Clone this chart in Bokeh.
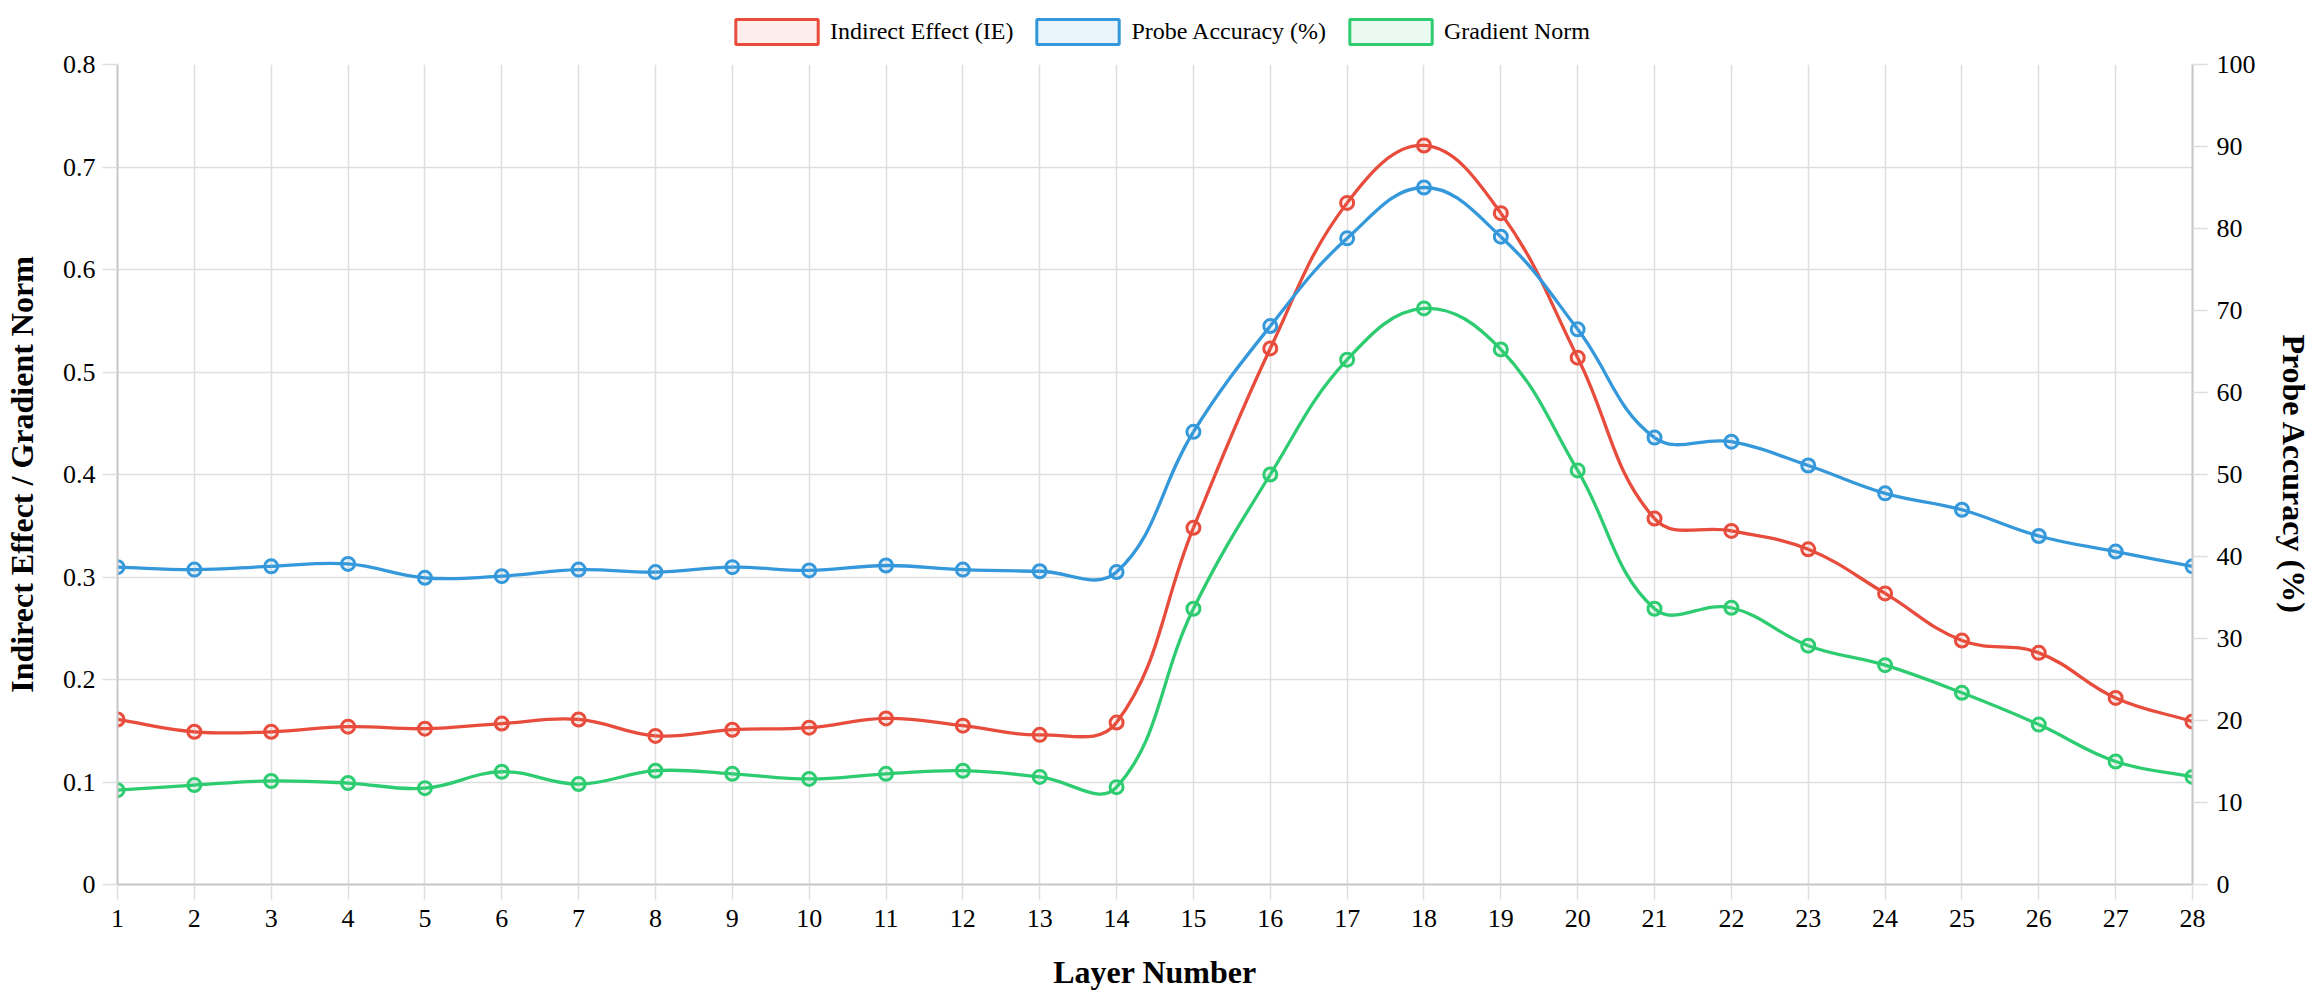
import numpy as np
from bokeh.plotting import figure
from bokeh.layouts import column
from bokeh.models import (Range1d, LinearAxis, Legend, LegendItem, FixedTicker,
                          ColumnDataSource)
from bokeh.embed import file_html
from bokeh.resources import INLINE

# ---------------- data ----------------
layers = list(range(1, 29))
indirect_effect = [0.161, 0.149, 0.149, 0.154, 0.152, 0.157, 0.161, 0.145, 0.151, 0.153,
                   0.162, 0.155, 0.146, 0.158, 0.348, 0.523, 0.665, 0.721, 0.655, 0.514,
                   0.357, 0.345, 0.327, 0.284, 0.238, 0.226, 0.182, 0.159]
probe_accuracy = [38.7, 38.4, 38.8, 39.1, 37.4, 37.6, 38.4, 38.1, 38.7, 38.3,
                  38.9, 38.4, 38.2, 38.1, 55.2, 68.1, 78.8, 85.0, 79.0, 67.7,
                  54.5, 54.0, 51.1, 47.7, 45.7, 42.5, 40.6, 38.8]
gradient_norm = [0.092, 0.097, 0.101, 0.099, 0.094, 0.110, 0.098, 0.111, 0.108, 0.103,
                 0.108, 0.111, 0.105, 0.095, 0.269, 0.400, 0.512, 0.562, 0.522, 0.404,
                 0.269, 0.270, 0.233, 0.214, 0.187, 0.156, 0.120, 0.105]
left_ticks = [0, 0.1, 0.2, 0.3, 0.4, 0.5, 0.6, 0.7, 0.8]
right_ticks = [0, 10, 20, 30, 40, 50, 60, 70, 80, 90, 100]
series_names = ["Indirect Effect (IE)", "Probe Accuracy (%)", "Gradient Norm"]

RED, BLUE, GREEN = "#e74c3c", "#3498db", "#2ecc71"
FONT = "Liberation Serif"

# ---------------- layout ----------------
W = 2316
LEG_H = 48
H = 1000 - LEG_H
ML, MR, MT, MB = 117, 124, 16, 116
FRAME_W = W - ML - MR
FRAME_H = H - MT - MB

p = figure(width=W, height=H, x_range=Range1d(1, 28), y_range=Range1d(0, 0.8),
           output_backend="svg", toolbar_location=None,
           min_border_left=ML, min_border_right=MR, min_border_top=MT, min_border_bottom=MB)
p.extra_y_ranges = {"acc": Range1d(0, 100)}
p.outline_line_color = None
p.background_fill_color = "white"
p.border_fill_color = "white"

GRID = "#dedede"
AXIS = "#c6c6c6"

p.xgrid.ticker = FixedTicker(ticks=layers)
p.ygrid.ticker = FixedTicker(ticks=left_ticks)
for g in (p.xgrid, p.ygrid):
    g.grid_line_color = GRID
    g.grid_line_width = 1.5

xa = p.xaxis[0]
xa.ticker = FixedTicker(ticks=layers)
xa.axis_label = "Layer Number"
ya = p.yaxis[0]
ya.ticker = FixedTicker(ticks=left_ticks)
ya.major_label_overrides = {0: "0"}
ya.axis_label = "Indirect Effect / Gradient Norm"
ra = LinearAxis(y_range_name="acc", ticker=FixedTicker(ticks=right_ticks),
                axis_label="Probe Accuracy (%)")
p.add_layout(ra, "right")

for ax in (xa, ya, ra):
    ax.axis_line_color = AXIS
    ax.axis_line_width = 2
    ax.major_tick_line_color = GRID
    ax.major_tick_line_width = 1.5
    ax.major_tick_in = 0
    ax.major_tick_out = 15
    ax.minor_tick_line_color = None
    ax.major_label_text_font = FONT
    ax.major_label_text_font_size = "26px"
    ax.major_label_text_color = "#000000"
    ax.axis_label_text_font = FONT
    ax.axis_label_text_font_style = "bold"
    ax.axis_label_text_color = "#000000"
    ax.axis_label_text_font_size = "32px"

xa.major_label_standoff = 10
xa.axis_label_standoff = 24
ya.major_label_standoff = 7
ya.axis_label_standoff = 20
ra.major_label_standoff = 9
ra.axis_label_standoff = 17

# ---------------- smooth curves (Chart.js style spline, tension 0.4) ----------------
SX = FRAME_W / (28 - 1)


def spline_segments(xs, ys, sy, t=0.4):
    px = np.asarray(xs, float) * SX
    py = np.asarray(ys, float) * sy
    n = len(px)
    prev_cp, next_cp = [], []
    for i in range(n):
        cx, cy = px[i], py[i]
        ax_, ay_ = (px[i - 1], py[i - 1]) if i > 0 else (cx, cy)
        bx_, by_ = (px[i + 1], py[i + 1]) if i < n - 1 else (cx, cy)
        d01 = np.hypot(cx - ax_, cy - ay_)
        d12 = np.hypot(bx_ - cx, by_ - cy)
        tot = d01 + d12
        s01 = d01 / tot if tot else 0.0
        s12 = d12 / tot if tot else 0.0
        fa, fb = t * s01, t * s12
        prev_cp.append((cx - fa * (bx_ - ax_), cy - fa * (by_ - ay_)))
        next_cp.append((cx + fb * (bx_ - ax_), cy + fb * (by_ - ay_)))
    seg = dict(x0=[], y0=[], x1=[], y1=[], cx0=[], cy0=[], cx1=[], cy1=[])
    for i in range(n - 1):
        seg["x0"].append(xs[i]); seg["y0"].append(ys[i])
        seg["x1"].append(xs[i + 1]); seg["y1"].append(ys[i + 1])
        seg["cx0"].append(next_cp[i][0] / SX); seg["cy0"].append(next_cp[i][1] / sy)
        seg["cx1"].append(prev_cp[i + 1][0] / SX); seg["cy1"].append(prev_cp[i + 1][1] / sy)
    return ColumnDataSource(seg)


SY_LEFT = FRAME_H / 0.8
SY_ACC = FRAME_H / 100.0

series = [
    (series_names[0], indirect_effect, RED, SY_LEFT, "default"),
    (series_names[1], probe_accuracy, BLUE, SY_ACC, "acc"),
    (series_names[2], gradient_norm, GREEN, SY_LEFT, "default"),
]

# ---------------- legend strip (separate figure above the chart) ----------------
leg = figure(width=W, height=LEG_H, x_range=Range1d(0, W), y_range=Range1d(0, LEG_H),
             output_backend="svg", toolbar_location=None,
             x_axis_location=None, y_axis_location=None,
             min_border=0, min_border_left=0, min_border_right=0,
             min_border_top=0, min_border_bottom=0)
leg.outline_line_color = None
leg.xgrid.visible = False
leg.ygrid.visible = False
leg.background_fill_color = "white"
leg.border_fill_color = "white"

legend_items = []
for label, vals, color, sy, rng in series:
    src = spline_segments(layers, vals, sy)
    p.bezier(x0="x0", y0="y0", x1="x1", y1="y1", cx0="cx0", cy0="cy0", cx1="cx1", cy1="cy1",
             source=src, line_color=color, line_width=3.3, y_range_name=rng)
    p.scatter(layers, vals, size=13, marker="circle", line_color=color, line_width=3,
              fill_color=color, fill_alpha=0.1, y_range_name=rng)
    dummy = leg.quad(left=[np.nan], right=[np.nan], top=[np.nan], bottom=[np.nan],
                     fill_color=color, fill_alpha=0.1, line_color=color, line_width=3)
    legend_items.append(LegendItem(label=label, renderers=[dummy]))

legend = Legend(items=legend_items, location=(608, 1.5), orientation="horizontal",
                glyph_width=103, glyph_height=31, label_standoff=2, spacing=13,
                padding=0, margin=0, border_line_color=None, background_fill_alpha=0,
                label_text_font=FONT, label_text_font_size="24px",
                label_text_color="#000000", label_height=24)
leg.add_layout(legend, "center")

layout = column(leg, p, spacing=0)
open("out.html", "w").write(file_html(layout, INLINE))
